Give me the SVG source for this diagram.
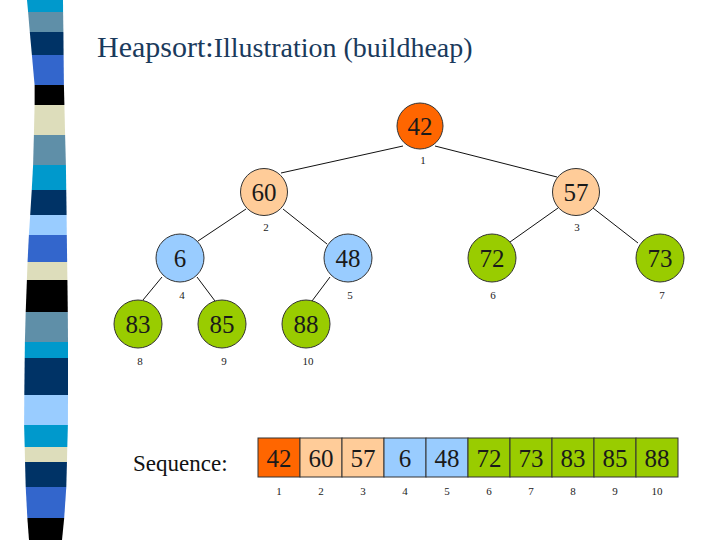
<svg xmlns="http://www.w3.org/2000/svg" width="720" height="540" viewBox="0 0 720 540">
<style>
.n{stroke:#333;stroke-width:1}
.o{fill:#FF6600}.p{fill:#FFCC99}.b{fill:#99CCFF}.g{fill:#99CC00}
.v{font-family:"Liberation Serif",serif;font-size:25px;fill:#1a1a1a;text-anchor:middle}
.i{font-family:"Liberation Serif",serif;font-size:11px;fill:#222;text-anchor:middle}
.e{stroke:#111;stroke-width:1;fill:none}
</style>
<rect width="720" height="540" fill="#fff"/>
<g id="stripe">
<polygon points="27,0 63,0 63.1,12 28.1,12" fill="#0099CC"/>
<polygon points="28.1,12 63.1,12 63.4,32 29.8,32" fill="#5F8FA8"/>
<polygon points="29.8,32 63.4,32 63.6,55 31.9,55" fill="#003366"/>
<polygon points="31.9,55 63.6,55 63.9,85 34.6,85" fill="#3366CC"/>
<polygon points="34.6,85 63.9,85 64.4,105 34.6,105" fill="#000"/>
<polygon points="34.6,105 64.4,105 65.1,135 33.9,135" fill="#DDDDBB"/>
<polygon points="33.9,135 65.1,135 65.9,165 33.1,165" fill="#5F8FA8"/>
<polygon points="33.1,165 65.9,165 66.25,190 31.75,190" fill="#0099CC"/>
<polygon points="31.75,190 66.25,190 66.6,215 30.2,215" fill="#003366"/>
<polygon points="30.2,215 66.6,215 66.8,235 28.9,235" fill="#99CCFF"/>
<polygon points="28.9,235 66.8,235 67.15,262 27.55,262" fill="#3366CC"/>
<polygon points="27.55,262 67.15,262 67.4,280 26.9,280" fill="#DDDDBB"/>
<polygon points="26.9,280 67.4,280 67.8,312 25.7,312" fill="#000"/>
<polygon points="25.7,312 67.8,312 68,342 24.9,342" fill="#5F8FA8"/>
<polygon points="24.9,342 68,342 68,358 24.7,358" fill="#0099CC"/>
<polygon points="24.7,358 68,358 68,395 24.3,395" fill="#003366"/>
<polygon points="24.3,395 68,395 67.9,425 24.1,425" fill="#99CCFF"/>
<polygon points="24.1,425 67.9,425 67.3,447 24.7,447" fill="#0099CC"/>
<polygon points="24.7,447 67.3,447 66.95,462 25.05,462" fill="#DDDDBB"/>
<polygon points="25.05,462 66.95,462 66.3,487 25.7,487" fill="#003366"/>
<polygon points="25.7,487 66.3,487 64.2,518 27.35,518" fill="#3366CC"/>
<polygon points="27.35,518 64.2,518 62,540 29,540" fill="#000"/>
</g>
<text x="97" y="57" font-family="Liberation Serif,serif" fill="#1a3a5c"><tspan font-size="30">Heapsort:</tspan><tspan font-size="28">Illustration (buildheap)</tspan></text>
<g id="edges" class="e">
<line x1="403" y1="146" x2="281" y2="173"/>
<line x1="435" y1="146" x2="557" y2="177"/>
<line x1="246" y1="209" x2="198" y2="241"/>
<line x1="283" y1="209" x2="327" y2="244"/>
<line x1="558" y1="208" x2="510" y2="242"/>
<line x1="593" y1="208" x2="638" y2="243"/>
<line x1="162" y1="277" x2="143" y2="300"/>
<line x1="197" y1="277" x2="215" y2="301"/>
<line x1="330" y1="277" x2="312" y2="301"/>
</g>
<g id="node1"><circle class="n o" cx="420" cy="126" r="23"/><text class="v" x="420" y="135" fill="#3a0a0a">42</text><text class="i" x="423" y="164">1</text></g>
<g id="node2"><circle class="n p" cx="264" cy="192" r="23.5"/><text class="v" x="264" y="201">60</text><text class="i" x="266" y="231">2</text></g>
<g id="node3"><circle class="n p" cx="576" cy="192" r="23.5"/><text class="v" x="576" y="201">57</text><text class="i" x="577" y="231">3</text></g>
<g id="node4"><circle class="n b" cx="180" cy="258" r="24"/><text class="v" x="180" y="267">6</text><text class="i" x="182" y="299">4</text></g>
<g id="node5"><circle class="n b" cx="348" cy="258" r="24"/><text class="v" x="348" y="267">48</text><text class="i" x="350" y="299">5</text></g>
<g id="node6"><circle class="n g" cx="492" cy="258" r="24"/><text class="v" x="492" y="267">72</text><text class="i" x="493" y="299">6</text></g>
<g id="node7"><circle class="n g" cx="660" cy="258" r="24"/><text class="v" x="660" y="267">73</text><text class="i" x="662" y="299">7</text></g>
<g id="node8"><circle class="n g" cx="138" cy="324" r="24"/><text class="v" x="138" y="333">83</text><text class="i" x="140" y="365">8</text></g>
<g id="node9"><circle class="n g" cx="222" cy="324" r="24"/><text class="v" x="222" y="333">85</text><text class="i" x="224" y="365">9</text></g>
<g id="node10"><circle class="n g" cx="306" cy="324" r="24"/><text class="v" x="306" y="333">88</text><text class="i" x="308" y="365">10</text></g>
<text x="133" y="471" font-family="Liberation Serif,serif" font-size="23" fill="#111">Sequence:</text>
<g id="sequence">
<rect class="n o" x="258" y="438" width="42" height="39"/>
<rect class="n p" x="300" y="438" width="42" height="39"/>
<rect class="n p" x="342" y="438" width="42" height="39"/>
<rect class="n b" x="384" y="438" width="42" height="39"/>
<rect class="n b" x="426" y="438" width="42" height="39"/>
<rect class="n g" x="468" y="438" width="42" height="39"/>
<rect class="n g" x="510" y="438" width="42" height="39"/>
<rect class="n g" x="552" y="438" width="42" height="39"/>
<rect class="n g" x="594" y="438" width="42" height="39"/>
<rect class="n g" x="636" y="438" width="42" height="39"/>
<text class="v" x="279" y="467">42</text><text class="v" x="321" y="467">60</text><text class="v" x="363" y="467">57</text><text class="v" x="405" y="467">6</text><text class="v" x="447" y="467">48</text><text class="v" x="489" y="467">72</text><text class="v" x="531" y="467">73</text><text class="v" x="573" y="467">83</text><text class="v" x="615" y="467">85</text><text class="v" x="657" y="467">88</text>
<text class="i" x="279" y="495">1</text><text class="i" x="321" y="495">2</text><text class="i" x="363" y="495">3</text><text class="i" x="405" y="495">4</text><text class="i" x="447" y="495">5</text><text class="i" x="489" y="495">6</text><text class="i" x="531" y="495">7</text><text class="i" x="573" y="495">8</text><text class="i" x="615" y="495">9</text><text class="i" x="657" y="495">10</text>
</g>
</svg>
